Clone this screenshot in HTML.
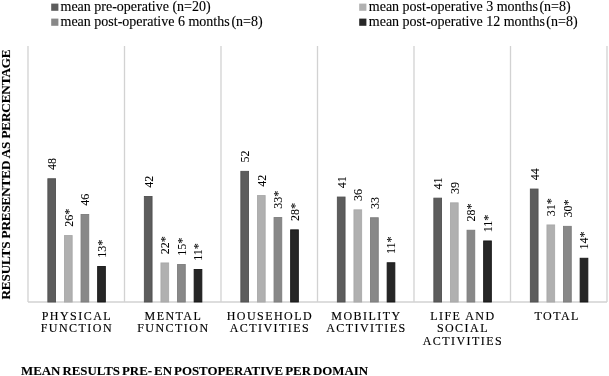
<!DOCTYPE html>
<html><head><meta charset="utf-8"><style>
html,body{margin:0;padding:0;background:#fff;width:609px;height:376px;overflow:hidden}
svg{display:block;will-change:transform}
text{font-family:"Liberation Serif",serif;fill:#000;stroke:#000;stroke-width:0.35px}
.dl{font-size:12px;stroke-width:0.05px}
.cl{font-size:12px;letter-spacing:1.45px;stroke-width:0.15px}
.lg{font-size:14px;stroke-width:0.12px}
.tt{font-size:13px;font-weight:bold;stroke-width:0.1px}
.yt{font-size:13.2px;letter-spacing:-0.15px}
.bt{word-spacing:-1.2px;font-size:12.9px}
</style></head><body>
<svg width="609" height="376" viewBox="0 0 609 376">
<rect width="609" height="376" fill="#fff"/>

<line x1="28.00" y1="46.0" x2="28.00" y2="302.0" stroke="#d2d2d2" stroke-width="1.3"/>
<line x1="124.50" y1="46.0" x2="124.50" y2="302.0" stroke="#d2d2d2" stroke-width="1.3"/>
<line x1="221.00" y1="46.0" x2="221.00" y2="302.0" stroke="#d2d2d2" stroke-width="1.3"/>
<line x1="317.50" y1="46.0" x2="317.50" y2="302.0" stroke="#d2d2d2" stroke-width="1.3"/>
<line x1="414.00" y1="46.0" x2="414.00" y2="302.0" stroke="#d2d2d2" stroke-width="1.3"/>
<line x1="510.50" y1="46.0" x2="510.50" y2="302.0" stroke="#d2d2d2" stroke-width="1.3"/>
<line x1="607.00" y1="46.0" x2="607.00" y2="302.0" stroke="#d2d2d2" stroke-width="1.3"/>
<line x1="28.0" y1="302.0" x2="607.0" y2="302.0" stroke="#d2d2d2" stroke-width="1.3"/>
<rect x="47.85" y="178.75" width="7.70" height="123.25" fill="#5d5d5d" stroke="#515151" stroke-width="0.9"/>
<text class="dl" transform="translate(56.00,170.00) rotate(-90)">48</text>
<rect x="64.45" y="235.55" width="7.70" height="66.45" fill="#b0b0b0" stroke="#a9a9a9" stroke-width="0.9"/>
<text class="dl" transform="translate(72.60,226.80) rotate(-90)">26*</text>
<rect x="81.05" y="214.45" width="7.70" height="87.55" fill="#888888" stroke="#7d7d7d" stroke-width="0.9"/>
<text class="dl" transform="translate(89.20,205.70) rotate(-90)">46</text>
<rect x="97.65" y="266.45" width="7.70" height="35.55" fill="#262626" stroke="#161616" stroke-width="0.9"/>
<text class="dl" transform="translate(105.80,257.70) rotate(-90)">13*</text>
<rect x="144.35" y="196.45" width="7.70" height="105.55" fill="#5d5d5d" stroke="#515151" stroke-width="0.9"/>
<text class="dl" transform="translate(152.50,187.70) rotate(-90)">42</text>
<rect x="160.95" y="262.95" width="7.70" height="39.05" fill="#b0b0b0" stroke="#a9a9a9" stroke-width="0.9"/>
<text class="dl" transform="translate(169.10,254.20) rotate(-90)">22*</text>
<rect x="177.55" y="264.45" width="7.70" height="37.55" fill="#888888" stroke="#7d7d7d" stroke-width="0.9"/>
<text class="dl" transform="translate(185.70,255.70) rotate(-90)">15*</text>
<rect x="194.15" y="269.55" width="7.70" height="32.45" fill="#262626" stroke="#161616" stroke-width="0.9"/>
<text class="dl" transform="translate(202.30,260.80) rotate(-90)">11*</text>
<rect x="240.85" y="171.35" width="7.70" height="130.65" fill="#5d5d5d" stroke="#515151" stroke-width="0.9"/>
<text class="dl" transform="translate(249.00,162.60) rotate(-90)">52</text>
<rect x="257.45" y="195.55" width="7.70" height="106.45" fill="#b0b0b0" stroke="#a9a9a9" stroke-width="0.9"/>
<text class="dl" transform="translate(265.60,186.80) rotate(-90)">42</text>
<rect x="274.05" y="217.55" width="7.70" height="84.45" fill="#888888" stroke="#7d7d7d" stroke-width="0.9"/>
<text class="dl" transform="translate(282.20,208.80) rotate(-90)">33*</text>
<rect x="290.65" y="229.85" width="7.70" height="72.15" fill="#262626" stroke="#161616" stroke-width="0.9"/>
<text class="dl" transform="translate(298.80,221.10) rotate(-90)">28*</text>
<rect x="337.35" y="197.05" width="7.70" height="104.95" fill="#5d5d5d" stroke="#515151" stroke-width="0.9"/>
<text class="dl" transform="translate(345.50,188.30) rotate(-90)">41</text>
<rect x="353.95" y="209.85" width="7.70" height="92.15" fill="#b0b0b0" stroke="#a9a9a9" stroke-width="0.9"/>
<text class="dl" transform="translate(362.10,201.10) rotate(-90)">36</text>
<rect x="370.55" y="217.75" width="7.70" height="84.25" fill="#888888" stroke="#7d7d7d" stroke-width="0.9"/>
<text class="dl" transform="translate(378.70,209.00) rotate(-90)">33</text>
<rect x="387.15" y="262.75" width="7.70" height="39.25" fill="#262626" stroke="#161616" stroke-width="0.9"/>
<text class="dl" transform="translate(395.30,254.00) rotate(-90)">11*</text>
<rect x="433.85" y="198.15" width="7.70" height="103.85" fill="#5d5d5d" stroke="#515151" stroke-width="0.9"/>
<text class="dl" transform="translate(442.00,189.40) rotate(-90)">41</text>
<rect x="450.45" y="202.85" width="7.70" height="99.15" fill="#b0b0b0" stroke="#a9a9a9" stroke-width="0.9"/>
<text class="dl" transform="translate(458.60,194.10) rotate(-90)">39</text>
<rect x="467.05" y="230.25" width="7.70" height="71.75" fill="#888888" stroke="#7d7d7d" stroke-width="0.9"/>
<text class="dl" transform="translate(475.20,221.50) rotate(-90)">28*</text>
<rect x="483.65" y="240.95" width="7.70" height="61.05" fill="#262626" stroke="#161616" stroke-width="0.9"/>
<text class="dl" transform="translate(491.80,232.20) rotate(-90)">11*</text>
<rect x="530.35" y="189.05" width="7.70" height="112.95" fill="#5d5d5d" stroke="#515151" stroke-width="0.9"/>
<text class="dl" transform="translate(538.50,180.30) rotate(-90)">44</text>
<rect x="546.95" y="224.95" width="7.70" height="77.05" fill="#b0b0b0" stroke="#a9a9a9" stroke-width="0.9"/>
<text class="dl" transform="translate(555.10,216.20) rotate(-90)">31*</text>
<rect x="563.55" y="226.35" width="7.70" height="75.65" fill="#888888" stroke="#7d7d7d" stroke-width="0.9"/>
<text class="dl" transform="translate(571.70,217.60) rotate(-90)">30*</text>
<rect x="580.15" y="258.25" width="7.70" height="43.75" fill="#262626" stroke="#161616" stroke-width="0.9"/>
<text class="dl" transform="translate(588.30,249.50) rotate(-90)">14*</text>
<text class="cl" x="76.90" y="319.60" text-anchor="middle">PHYSICAL</text>
<text class="cl" x="76.90" y="332.40" text-anchor="middle">FUNCTION</text>
<text class="cl" x="173.40" y="319.60" text-anchor="middle">MENTAL</text>
<text class="cl" x="173.40" y="332.40" text-anchor="middle">FUNCTION</text>
<text class="cl" x="269.90" y="319.60" text-anchor="middle">HOUSEHOLD</text>
<text class="cl" x="269.90" y="332.40" text-anchor="middle">ACTIVITIES</text>
<text class="cl" x="366.40" y="319.60" text-anchor="middle">MOBILITY</text>
<text class="cl" x="366.40" y="332.40" text-anchor="middle">ACTIVITIES</text>
<text class="cl" x="462.90" y="319.60" text-anchor="middle">LIFE AND</text>
<text class="cl" x="462.90" y="332.40" text-anchor="middle">SOCIAL</text>
<text class="cl" x="462.90" y="345.20" text-anchor="middle">ACTIVITIES</text>
<text class="cl" x="557.20" y="319.60" text-anchor="middle">TOTAL</text>
<rect x="51.2" y="3.6" width="7.2" height="7.2" fill="#5d5d5d"/>
<text class="lg" x="60.5" y="10.8">mean pre-operative (n=20)</text>
<rect x="51.2" y="18.6" width="7.2" height="7.2" fill="#888888"/>
<text class="lg" x="60.5" y="25.6">mean post-operative 6 months<tspan dx="1.8">(n=8)</tspan></text>
<rect x="359.2" y="3.6" width="7.2" height="7.2" fill="#b0b0b0"/>
<text class="lg" x="368.8" y="10.8">mean post-operative 3 months<tspan dx="1.5">(n=8)</tspan></text>
<rect x="359.2" y="18.6" width="7.2" height="7.2" fill="#262626"/>
<text class="lg" x="368.8" y="25.6">mean post-operative 12 months<tspan dx="1.4">(n=8)</tspan></text>
<text class="tt yt" transform="translate(10.3,174.5) rotate(-90)" text-anchor="middle">RESULTS PRESENTED AS PERCENTAGE</text>
<text class="tt bt" x="21.0" y="374.7">MEAN RESULTS PRE- EN POSTOPERATIVE PER DOMAIN</text>
</svg></body></html>
